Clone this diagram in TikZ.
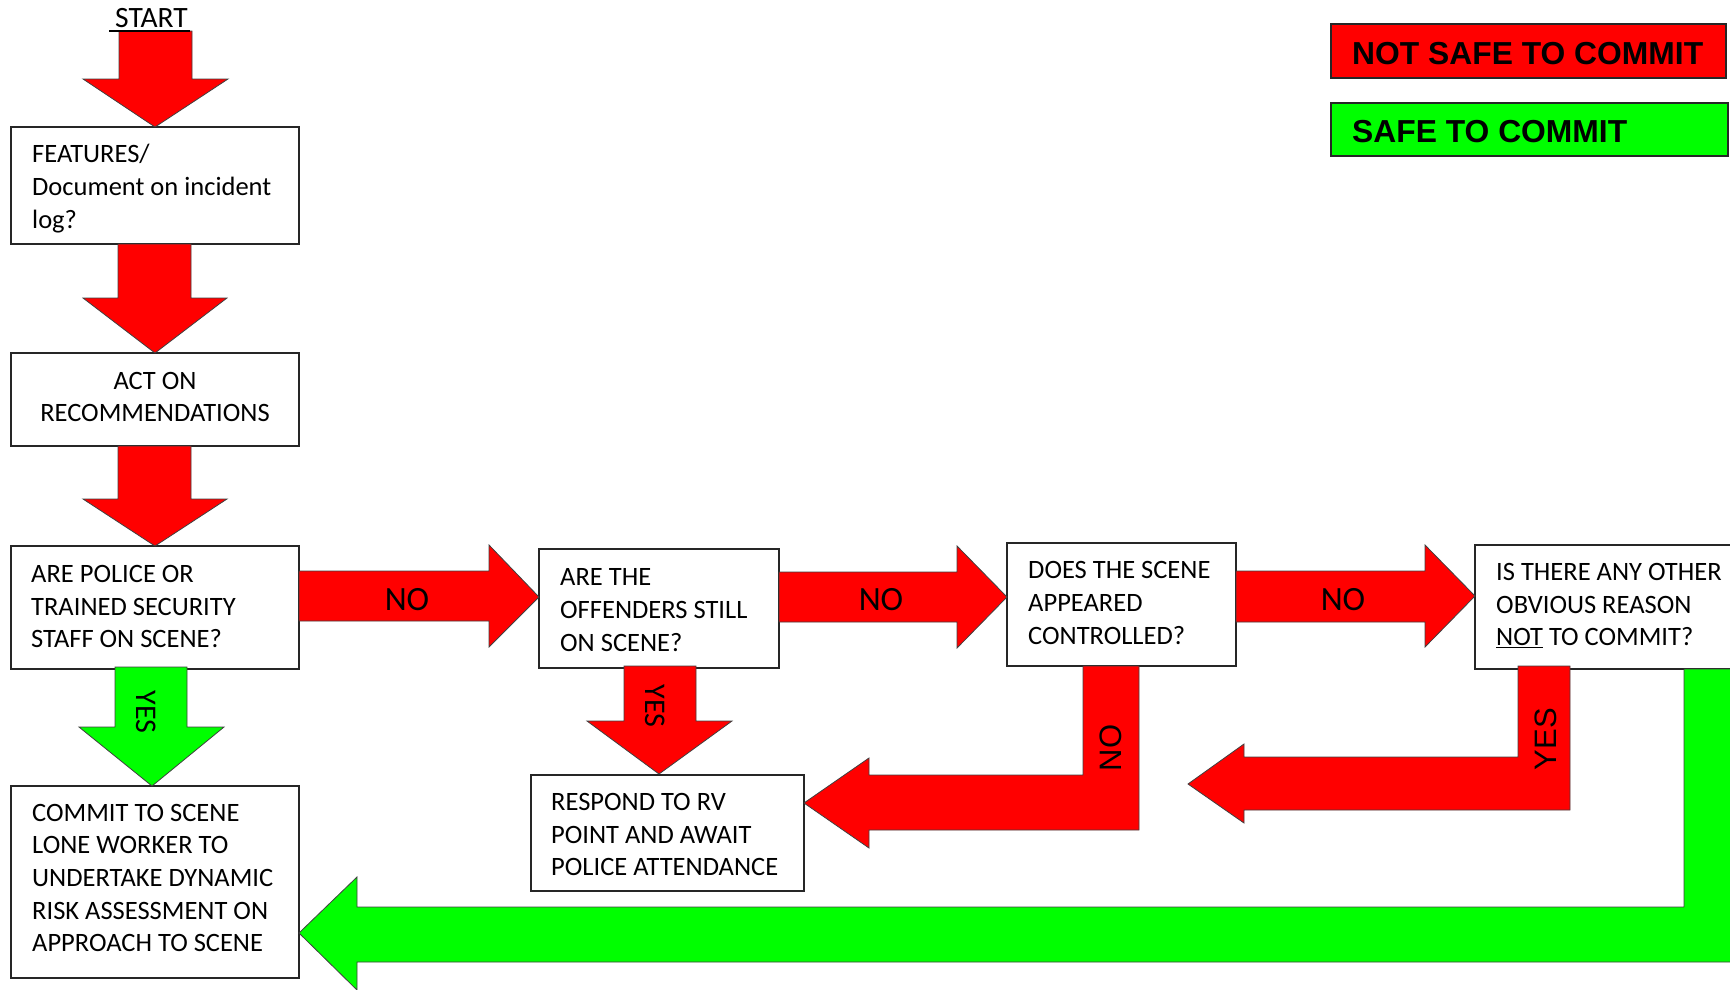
\documentclass[tikz,border=0pt]{standalone}
\usepackage{fontspec}
\setmainfont{Carlito}
\newfontfamily\arialfont{Liberation Sans}
\usetikzlibrary{calc}
\definecolor{arrred}{RGB}{255,0,0}
\definecolor{arrgreen}{RGB}{0,255,0}
\newcommand\bodyfont{\fontsize{26.5}{32.7}\selectfont}
\newcommand\nofont{\fontsize{34}{40}\selectfont}
\newcommand\yesfont{\fontsize{30}{36}\selectfont}
\newcommand\startfont{\fontsize{29.5}{34}\selectfont}
\newcommand\arialrot{\arialfont\fontsize{31}{36}\selectfont}
\newcommand\legfont{\arialfont\bfseries\fontsize{31.8}{36}\selectfont}
\tikzset{
  box/.style={draw=black!85, line width=1.2pt, fill=white, inner sep=0pt, outer sep=0pt, rectangle, anchor=north west},
  txt/.style={font=\bodyfont, align=left, inner sep=0pt, anchor=west},
  redarrow/.style={fill=arrred, draw=black!75, line width=0.8pt, line join=miter},
  greenarrow/.style={fill=arrgreen, draw=black!75, line width=0.8pt, line join=miter},
  lbl/.style={inner sep=0pt},
  legbox/.style={draw=black!85, line width=1.2pt, inner sep=0pt, outer sep=0pt, rectangle, anchor=north west},
}
\begin{document}
\begin{tikzpicture}[x=1pt,y=-1pt]
\useasboundingbox (0,0) rectangle (1730,989);
\clip (0,0) rectangle (1730,989);

% boxes
\node[box, minimum width=288pt, minimum height=117pt] (b1) at (11,127) {};
\node[box, minimum width=288pt, minimum height=93pt]  (b2) at (11,353) {};
\node[box, minimum width=288pt, minimum height=123pt] (b3) at (11,546) {};
\node[box, minimum width=288pt, minimum height=192pt] (b4) at (11,786) {};
\node[box, minimum width=240pt, minimum height=119pt] (b5) at (539,549) {};
\node[box, minimum width=273pt, minimum height=116pt] (b6) at (531,775) {};
\node[box, minimum width=229pt, minimum height=123pt] (b7) at (1007,543) {};
\node[box, minimum width=300pt, minimum height=124pt] (b8) at (1475,545) {};

% legend
\node[legbox, fill=arrred, minimum width=395pt, minimum height=54pt] (lr) at (1331,24) {};
\node[legbox, fill=arrgreen, minimum width=397pt, minimum height=53pt] (lg) at (1331,103) {};
\node[anchor=base west, inner sep=0pt, font=\legfont] (lrt) at (1352,64.5) {NOT SAFE TO COMMIT};
\node[anchor=base west, inner sep=0pt, font=\legfont] (lgt) at (1352,142.5) {SAFE TO COMMIT};

% start
\node[anchor=base west, inner sep=0pt, font=\startfont] (start) at (115,27) {START};

% arrows
\draw[redarrow] (119,31) -- (192,31) -- (192,79) -- (228,79) -- (b1.north) -- (83,79) -- (119,79) -- cycle;
\draw[line width=1.2pt] ($(start.base west)+(-6,4)$) -- ($(start.base east)+(2,4)$);
\draw[redarrow] (118,244) -- (191,244) -- (191,298) -- (227,298) -- (b2.north) -- (83,298) -- (118,298) -- cycle;
\draw[redarrow] (118,446) -- (191,446) -- (191,499) -- (227,499) -- (b3.north) -- (83,499) -- (118,499) -- cycle;
\draw[greenarrow] (115,667) -- (187,667) -- (187,727) -- (224,727) -- (152,786) -- (79,727) -- (115,727) -- cycle;
\draw[redarrow] (299,571) -- (489,571) -- (489,545) -- (539,597) -- (489,647) -- (489,621) -- (299,621) -- cycle;
\draw[redarrow] (779,572) -- (957,572) -- (957,546) -- (1007,597) -- (957,648) -- (957,622) -- (779,622) -- cycle;
\draw[redarrow] (1236,571) -- (1425,571) -- (1425,545) -- (1475,596) -- (1425,647) -- (1425,622) -- (1236,622) -- cycle;
\draw[redarrow] (624,666) -- (696,666) -- (696,721) -- (732,721) -- (659,774) -- (587,721) -- (624,721) -- cycle;
\draw[redarrow] (1083,666) -- (1139,666) -- (1139,830) -- (869,830) -- (869,848) -- (b6.east |- 0,803) -- (869,758) -- (869,775) -- (1083,775) -- cycle;
\coordinate (yesend) at (1188,784);
\draw[redarrow] (1518,666) -- (1570,666) -- (1570,810) -- (1244,810) -- (1244,823) -- (yesend) -- (1244,744) -- (1244,757) -- (1518,757) -- cycle;
\draw[greenarrow] (1684,669) -- (1760,669) -- (1760,962) -- (357,962) -- (357,990) -- (b4.east |- 0,933) -- (357,877) -- (357,907) -- (1684,907) -- cycle;

% arrow labels
\node[lbl, font=\nofont] (no1) at (407,600) {NO};
\node[lbl, font=\nofont] (no2) at (881,600) {NO};
\node[lbl, font=\nofont] (no3) at (1343,600) {NO};
\node[lbl, font=\yesfont, rotate=-90] (yes1) at (146,712) {YES};
\node[lbl, font=\yesfont, rotate=-90] (yes2) at (655,706) {YES};
\node[lbl, font=\arialrot, rotate=90] (no4) at (1111,748) {NO};
\node[lbl, font=\arialrot, rotate=90] (yes3) at (1546,739) {YES};

% texts
\node[txt] (t1) at (32,188.5) {FEATURES/\\Document on incident\\log?};
\node[txt, align=center, anchor=center] (t2) at (155,397) {ACT ON\\RECOMMENDATIONS};
\node[txt] (t3) at (31,606.5) {ARE POLICE OR\\TRAINED SECURITY\\STAFF ON SCENE?};
\node[txt] (t4) at (32,878) {COMMIT TO SCENE\\LONE WORKER TO\\UNDERTAKE DYNAMIC\\RISK ASSESSMENT ON\\APPROACH TO SCENE};
\node[txt] (t5) at (560,610) {ARE THE\\OFFENDERS STILL\\ON SCENE?};
\node[txt] (t6) at (551,834.5) {RESPOND TO RV\\POINT AND AWAIT\\POLICE ATTENDANCE};
\node[txt] (t7) at (1028,603) {DOES THE SCENE\\APPEARED\\CONTROLLED?};
\node[txt] (t8) at (1496,605.5) {IS THERE ANY OTHER\\OBVIOUS REASON\\\underline{NOT} TO COMMIT?};
\end{tikzpicture}
\end{document}
